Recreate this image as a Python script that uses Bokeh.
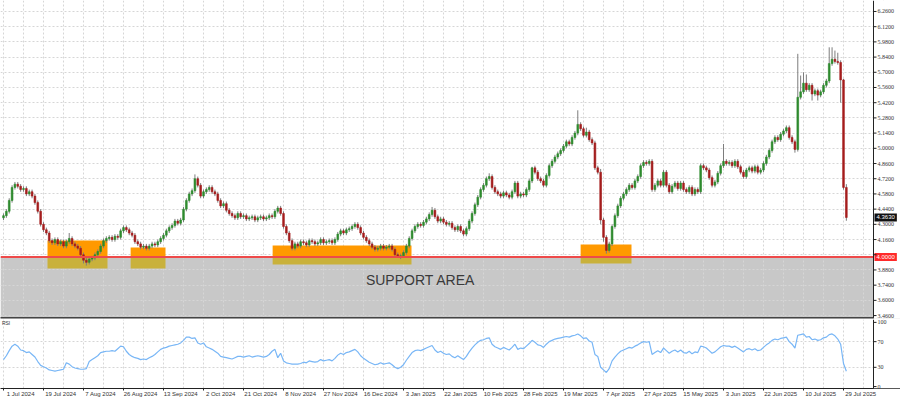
from bokeh.plotting import figure
from bokeh.layouts import column
from bokeh.models import (Range1d, FixedTicker, Label, LabelSet, Span, BoxAnnotation,
                          ColumnDataSource)
from bokeh.embed import file_html
from bokeh.resources import INLINE

# ---------------- data ----------------
closes = [
    4.38, 4.42, 4.52, 4.64, 4.67, 4.65, 4.62, 4.63, 4.58, 4.60,
    4.56, 4.50, 4.42, 4.30, 4.25, 4.22, 4.15, 4.13, 4.16, 4.12,
    4.14, 4.10, 4.14, 4.17, 4.12, 4.10, 4.08, 4.02, 3.97, 3.95,
    3.98, 3.99, 4.02, 4.05, 4.10, 4.15, 4.17, 4.18, 4.16, 4.19,
    4.18, 4.24, 4.27, 4.25, 4.22, 4.20, 4.14, 4.12, 4.09, 4.10,
    4.08, 4.10, 4.12, 4.11, 4.14, 4.17, 4.20, 4.24, 4.27, 4.29,
    4.33, 4.31, 4.34, 4.44, 4.52, 4.58, 4.61, 4.72, 4.66, 4.56,
    4.60, 4.62, 4.64, 4.60, 4.58, 4.52, 4.47, 4.49, 4.43, 4.40,
    4.38, 4.36, 4.40, 4.37, 4.38, 4.35, 4.36, 4.37, 4.34, 4.36,
    4.37, 4.35, 4.36, 4.38, 4.37, 4.42, 4.45, 4.40, 4.28, 4.22,
    4.15, 4.08, 4.12, 4.10, 4.14, 4.13, 4.11, 4.15, 4.14, 4.12,
    4.13, 4.16, 4.13, 4.14, 4.15, 4.13, 4.16, 4.21, 4.24, 4.22,
    4.25, 4.26, 4.28, 4.30, 4.27, 4.22, 4.18, 4.15, 4.12, 4.09,
    4.07, 4.08, 4.10, 4.08, 4.09, 4.10, 4.07, 4.02, 4.00, 4.01,
    4.04, 4.10, 4.17, 4.24, 4.28, 4.30, 4.29, 4.32, 4.35, 4.39,
    4.43, 4.37, 4.33, 4.35, 4.32, 4.30, 4.31, 4.27, 4.25, 4.28,
    4.24, 4.21, 4.26, 4.33, 4.40, 4.48, 4.55, 4.62, 4.66, 4.72,
    4.74, 4.64, 4.60, 4.58, 4.56, 4.59, 4.57, 4.55, 4.60, 4.68,
    4.56, 4.58, 4.57, 4.62, 4.70, 4.82, 4.78, 4.72, 4.70, 4.66,
    4.75, 4.84, 4.88, 4.92, 4.95, 4.98, 5.02, 5.06, 5.04, 5.10,
    5.14, 5.22, 5.18, 5.12, 5.15, 5.08, 5.05, 4.82, 4.78, 4.34,
    4.18, 4.06, 4.12, 4.28, 4.38, 4.47, 4.54, 4.58, 4.62, 4.66,
    4.64, 4.70, 4.74, 4.84, 4.87, 4.86, 4.88, 4.62, 4.66, 4.70,
    4.66, 4.78, 4.66, 4.60, 4.65, 4.68, 4.63, 4.68, 4.62, 4.60,
    4.64, 4.58, 4.62, 4.60, 4.84, 4.82, 4.80, 4.73, 4.66, 4.69,
    4.77, 4.84, 4.88, 4.86, 4.87, 4.84, 4.88, 4.83, 4.78, 4.74,
    4.80, 4.82, 4.79, 4.83, 4.78, 4.80, 4.86, 4.92, 4.98, 5.06,
    5.10, 5.08, 5.13, 5.16, 5.19, 5.10, 5.06, 4.99, 5.47, 5.52,
    5.60, 5.54, 5.58, 5.50, 5.53, 5.49, 5.52, 5.58, 5.62, 5.78,
    5.82, 5.80, 5.79, 5.63, 4.64, 4.363,
]

opens = [
    4.36, 4.38, 4.42, 4.52, 4.64, 4.67, 4.65, 4.62, 4.63, 4.58,
    4.60, 4.56, 4.50, 4.42, 4.30, 4.25, 4.22, 4.15, 4.13, 4.16,
    4.12, 4.14, 4.10, 4.14, 4.17, 4.12, 4.10, 4.08, 4.02, 3.97,
    3.95, 3.98, 3.99, 4.02, 4.05, 4.10, 4.15, 4.17, 4.18, 4.16,
    4.19, 4.18, 4.24, 4.27, 4.25, 4.22, 4.20, 4.14, 4.12, 4.09,
    4.10, 4.08, 4.10, 4.12, 4.11, 4.14, 4.17, 4.20, 4.24, 4.27,
    4.29, 4.33, 4.31, 4.34, 4.44, 4.52, 4.58, 4.61, 4.72, 4.66,
    4.56, 4.60, 4.62, 4.64, 4.60, 4.58, 4.52, 4.47, 4.49, 4.43,
    4.40, 4.38, 4.36, 4.40, 4.37, 4.38, 4.35, 4.36, 4.37, 4.34,
    4.36, 4.37, 4.35, 4.36, 4.38, 4.37, 4.42, 4.45, 4.40, 4.28,
    4.22, 4.15, 4.08, 4.12, 4.10, 4.14, 4.13, 4.11, 4.15, 4.14,
    4.12, 4.13, 4.16, 4.13, 4.14, 4.15, 4.13, 4.16, 4.21, 4.24,
    4.22, 4.25, 4.26, 4.28, 4.30, 4.27, 4.22, 4.18, 4.15, 4.12,
    4.09, 4.07, 4.08, 4.10, 4.08, 4.09, 4.10, 4.07, 4.02, 4.00,
    4.01, 4.04, 4.10, 4.17, 4.24, 4.28, 4.30, 4.29, 4.32, 4.35,
    4.39, 4.43, 4.37, 4.33, 4.35, 4.32, 4.30, 4.31, 4.27, 4.25,
    4.28, 4.24, 4.21, 4.26, 4.33, 4.40, 4.48, 4.55, 4.62, 4.66,
    4.72, 4.74, 4.64, 4.60, 4.58, 4.56, 4.59, 4.57, 4.55, 4.60,
    4.68, 4.56, 4.58, 4.57, 4.62, 4.70, 4.82, 4.78, 4.72, 4.70,
    4.66, 4.75, 4.84, 4.88, 4.92, 4.95, 4.98, 5.02, 5.06, 5.04,
    5.10, 5.14, 5.22, 5.18, 5.12, 5.15, 5.08, 5.05, 4.82, 4.78,
    4.34, 4.18, 4.06, 4.12, 4.28, 4.38, 4.47, 4.54, 4.58, 4.62,
    4.66, 4.64, 4.70, 4.74, 4.84, 4.87, 4.86, 4.88, 4.62, 4.66,
    4.70, 4.66, 4.78, 4.66, 4.60, 4.65, 4.68, 4.63, 4.68, 4.62,
    4.60, 4.64, 4.58, 4.62, 4.60, 4.84, 4.82, 4.80, 4.73, 4.66,
    4.69, 4.77, 4.84, 4.88, 4.86, 4.87, 4.84, 4.88, 4.83, 4.78,
    4.74, 4.80, 4.82, 4.79, 4.83, 4.78, 4.80, 4.86, 4.92, 4.98,
    5.06, 5.10, 5.08, 5.13, 5.16, 5.19, 5.10, 5.06, 4.99, 5.47,
    5.52, 5.60, 5.54, 5.58, 5.50, 5.53, 5.49, 5.52, 5.58, 5.62,
    5.78, 5.82, 5.80, 5.79, 5.63, 4.64,
]

upper_wick = [
    .02, .02, .02, .02, .02, .02, .02, .02, .02, .02,
    .02, .02, .02, .02, .02, .02, .02, .02, .02, .02,
    .02, .02, .02, .05, .02, .02, .02, .02, .02, .02,
    .02, .02, .02, .02, .02, .02, .02, .02, .02, .02,
    .02, .02, .02, .02, .02, .02, .02, .02, .02, .02,
    .02, .02, .02, .02, .02, .02, .02, .02, .02, .02,
    .02, .02, .02, .02, .02, .02, .02, .04, .02, .02,
    .02, .02, .02, .02, .02, .02, .02, .02, .02, .02,
    .02, .02, .02, .02, .02, .02, .02, .02, .02, .02,
    .02, .02, .02, .02, .02, .02, .02, .02, .02, .02,
    .02, .02, .02, .02, .02, .02, .02, .02, .02, .02,
    .02, .02, .02, .02, .02, .02, .02, .02, .02, .02,
    .02, .02, .02, .02, .02, .02, .02, .02, .02, .02,
    .02, .02, .02, .02, .02, .02, .02, .02, .02, .02,
    .02, .02, .02, .02, .02, .02, .02, .02, .02, .02,
    .03, .02, .02, .02, .02, .02, .02, .02, .02, .02,
    .02, .02, .02, .02, .02, .02, .02, .02, .02, .02,
    .03, .02, .02, .02, .02, .02, .02, .02, .02, .02,
    .02, .02, .02, .02, .02, .01, .02, .02, .02, .02,
    .02, .02, .02, .02, .02, .02, .02, .02, .02, .02,
    .02, .13, .02, .02, .04, .02, .02, .02, .02, .03,
    .02, .02, .02, .02, .02, .02, .02, .02, .02, .02,
    .02, .02, .02, .02, .02, .02, .02, .02, .02, .02,
    .02, .02, .02, .02, .02, .02, .02, .02, .02, .02,
    .02, .02, .02, .02, .02, .02, .02, .02, .02, .02,
    .02, .02, .16, .02, .02, .02, .02, .02, .02, .02,
    .02, .02, .02, .02, .02, .02, .02, .02, .02, .02,
    .02, .02, .02, .02, .02, .02, .02, .02, .40, .15,
    .10, .08, .02, .02, .02, .02, .02, .02, .02, .15,
    .11, .08, .08, .02, .01, .03,
]

lower_wick = [
    .02, .02, .02, .02, .02, .02, .02, .02, .02, .02,
    .02, .02, .02, .02, .02, .02, .02, .02, .02, .02,
    .02, .02, .02, .02, .02, .02, .02, .02, .03, .03,
    .02, .02, .02, .02, .02, .02, .02, .02, .02, .02,
    .02, .02, .02, .02, .02, .02, .02, .02, .02, .02,
    .02, .02, .02, .02, .02, .02, .02, .02, .02, .02,
    .02, .02, .02, .02, .02, .02, .02, .02, .02, .02,
    .02, .02, .02, .02, .02, .02, .02, .02, .02, .02,
    .02, .02, .02, .02, .02, .02, .02, .02, .02, .02,
    .02, .02, .02, .02, .02, .02, .02, .02, .02, .02,
    .02, .02, .02, .02, .02, .02, .02, .02, .02, .02,
    .02, .02, .02, .02, .02, .02, .02, .02, .02, .02,
    .02, .02, .02, .02, .02, .02, .02, .02, .02, .02,
    .02, .02, .02, .02, .02, .02, .02, .02, .01, .02,
    .02, .02, .02, .02, .02, .02, .02, .02, .02, .02,
    .02, .02, .02, .02, .02, .02, .02, .02, .02, .02,
    .02, .02, .02, .02, .02, .02, .02, .02, .02, .02,
    .02, .02, .02, .02, .02, .02, .02, .02, .02, .02,
    .02, .02, .02, .02, .02, .02, .02, .02, .02, .02,
    .02, .02, .02, .02, .02, .02, .02, .02, .02, .02,
    .02, .02, .02, .02, .02, .02, .02, .02, .02, .04,
    .04, .03, .02, .02, .02, .02, .02, .02, .02, .02,
    .02, .02, .02, .02, .02, .02, .02, .02, .02, .02,
    .02, .02, .02, .02, .02, .02, .02, .02, .02, .02,
    .02, .02, .02, .02, .02, .02, .02, .02, .02, .02,
    .02, .02, .02, .02, .02, .02, .02, .02, .02, .02,
    .02, .02, .02, .02, .02, .02, .02, .02, .02, .02,
    .02, .02, .02, .02, .02, .02, .02, .03, .02, .02,
    .02, .02, .02, .06, .02, .05, .02, .02, .02, .02,
    .02, .02, .02, .21, .02, .03,
]

rsi = [
    42, 48, 56, 63, 66, 63, 57, 56, 53, 54,
    50, 46, 39, 33, 31, 29, 26, 25, 24, 25,
    26, 27, 37, 35, 31, 29, 28, 27, 27, 28,
    39, 42, 45, 48, 53, 54, 55, 55, 56, 55,
    59, 63, 62, 55, 50, 47, 45, 44, 42, 43,
    42, 45, 47, 50, 54, 58, 60, 61, 63, 64,
    65, 66, 68, 72, 77, 77, 75, 76, 68, 66,
    68, 62, 60, 58, 55, 52, 47, 46, 45, 44,
    43, 45, 47, 47, 46, 47, 48, 46, 47, 48,
    47, 46, 47, 50, 55, 58, 45, 52, 40, 37,
    36, 35, 35, 35, 36, 38, 37, 40, 39, 38,
    39, 42, 40, 41, 42, 40, 44, 49, 52, 50,
    53, 54, 56, 58, 54, 48, 44, 41, 38, 36,
    34, 35, 37, 35, 36, 37, 34, 30, 28, 30,
    34, 41, 47, 53, 56, 57, 56, 58, 60, 62,
    64, 57, 53, 55, 52, 50, 51, 47, 45, 48,
    45, 42, 47, 54, 60, 65, 69, 72, 73, 75,
    76, 66, 62, 60, 58, 61, 59, 57, 61, 66,
    58, 60, 59, 63, 67, 72, 69, 65, 64, 61,
    66, 70, 72, 74, 75, 76, 77, 78, 77, 79,
    80, 82, 79, 75, 76, 71, 69, 50, 47, 30,
    26, 22, 28, 40, 46, 51, 55, 57, 59, 61,
    60, 63, 65, 68, 70, 69, 70, 50, 53, 56,
    53, 60, 56, 52, 55, 57, 54, 57, 53, 52,
    55, 51, 54, 53, 63, 62, 60, 56, 52, 54,
    58, 62, 64, 63, 63, 61, 63, 60, 57, 54,
    58, 59, 57, 59, 56, 57, 61, 65, 68, 72,
    74, 73, 75, 76, 77, 70, 66, 60, 80, 81,
    82, 77, 78, 73, 74, 72, 73, 76, 77, 81,
    82, 79, 74, 66, 36, 24,
]

date_labels = [
    "1 Jul 2024", "19 Jul 2024", "7 Aug 2024", "26 Aug 2024", "13 Sep 2024",
    "2 Oct 2024", "21 Oct 2024", "8 Nov 2024", "27 Nov 2024", "16 Dec 2024",
    "3 Jan 2025", "22 Jan 2025", "10 Feb 2025", "28 Feb 2025", "19 Mar 2025",
    "7 Apr 2025", "27 Apr 2025", "15 May 2025", "3 Jun 2025", "22 Jun 2025",
    "10 Jul 2025", "29 Jul 2025",
]
bars_per_date_label = 14

price_ticks = [3.46, 3.60, 3.74, 3.88, 4.02, 4.16, 4.30, 4.44, 4.58, 4.72,
               4.86, 5.00, 5.14, 5.28, 5.42, 5.56, 5.70, 5.84, 5.98, 6.12, 6.26]
rsi_ticks = [0, 30, 70, 100]
rsi_levels = [30, 70]

support_level = 4.00
last_price = 4.363

# highlighted touch zones: bar index span and price span
zone_start = [15.4, 44.5, 94.2, 202.0]
zone_end = [36.4, 56.7, 142.8, 219.8]
zone_top = [4.151, 4.087, 4.105, 4.115]
zone_bottom = [3.893, 3.893, 3.930, 3.940]

# ---------------- build ----------------
n = len(closes)
idx = list(range(n))
highs = [max(o, c) + w for o, c, w in zip(opens, closes, upper_wick)]
lows = [min(o, c) - w for o, c, w in zip(opens, closes, lower_wick)]
up = [c >= o for o, c in zip(opens, closes)]
UP_COL, DN_COL, WICK_COL = "#2e8b2e", "#a51d1d", "#7d7d7d"
src = ColumnDataSource(dict(
    x=idx, o=opens, c=closes, h=highs, l=lows,
    top=[max(o, c) for o, c in zip(opens, closes)],
    bot=[min(o, c) for o, c in zip(opens, closes)],
    col=[UP_COL if u else DN_COL for u in up],
))

PX_PER_BAR = 40 / 14.0
X0 = -3 / PX_PER_BAR                      # bar 0 sits 3 px in
X1 = X0 + 900 / PX_PER_BAR
AXIS_X = X0 + 873 / PX_PER_BAR            # right price scale at 873 px
TICK_LEN = 3 / PX_PER_BAR
GRID_COL = "#d6d6d6"
TXT_COL = "#333333"
AX_COL = "#222222"
FONT = "Liberation Sans"
vgrid_ticks = list(range(0, 310, 7))
Y0, Y1 = 3.433, 6.361


def style_grid(fig, yticks):
    fig.xgrid.ticker = FixedTicker(ticks=vgrid_ticks)
    fig.ygrid.ticker = FixedTicker(ticks=yticks)
    for g in (fig.xgrid, fig.ygrid):
        g.grid_line_color = GRID_COL
        g.grid_line_dash = "2 2"
        g.grid_line_width = 1


def right_scale(fig, ticks, texts):
    """white strip right of 873 px with axis line, ticks and labels"""
    fig.add_layout(BoxAnnotation(left=AXIS_X, fill_color="white", fill_alpha=1.0, line_color=None))
    fig.add_layout(Span(location=AXIS_X, dimension="height", line_color=AX_COL, line_width=1))
    fig.segment(x0=[AXIS_X] * len(ticks), x1=[AXIS_X + TICK_LEN] * len(ticks),
                y0=ticks, y1=ticks, line_color=AX_COL, line_width=1, level="overlay")
    tsrc = ColumnDataSource(dict(y=ticks, t=texts))
    fig.add_layout(LabelSet(x=877, x_units="screen", y="y", text="t", source=tsrc,
                            text_baseline="middle", text_font=FONT, text_font_size="6px",
                            text_color=TXT_COL))


# ---------------- main price panel ----------------
p = figure(width=900, height=319, x_range=Range1d(X0, X1), y_range=Range1d(Y0, Y1),
           output_backend="svg", toolbar_location=None,
           x_axis_location=None, y_axis_location=None,
           min_border_left=0, min_border_top=0, min_border_bottom=1, min_border_right=0)
p.outline_line_color = None
p.background_fill_color = "white"
p.border_fill_color = "white"
style_grid(p, price_ticks)

# support area
p.add_layout(BoxAnnotation(top=support_level, fill_color="#c8c8c8", fill_alpha=1.0,
                           line_color=None, level="image"))

# zones
zsrc = ColumnDataSource(dict(l=zone_start, r=zone_end, t=zone_top, b=zone_bottom,
                             s=[support_level] * len(zone_start)))
p.quad(left="l", right="r", top="t", bottom="s", source=zsrc,
       fill_color="#ff9900", line_color=None)
p.quad(left="l", right="r", top="s", bottom="b", source=zsrc,
       fill_color="#c9b13b", line_color=None)

# candles
p.segment(x0="x", y0="h", x1="x", y1="l", source=src, line_color=WICK_COL, line_width=1)
p.vbar(x="x", width=0.62, top="top", bottom="bot", source=src,
       fill_color="col", line_color="col", line_width=0.6)

# support line
p.add_layout(Span(location=support_level, dimension="width", line_color="#ee4a4a", line_width=2))

p.add_layout(Label(x=146, y=3.783, text="SUPPORT AREA", text_align="center",
                   text_baseline="middle", text_font=FONT, text_font_size="14px",
                   text_color="#3a3a3a"))

right_scale(p, price_ticks, ["%.4f" % v for v in price_ticks])
p.segment(x0=[X0], x1=[AXIS_X], y0=[Y0 + 0.008], y1=[Y0 + 0.008],
          line_color="#444444", line_width=1.5, level="overlay")

# price flags on the scale
p.add_layout(Label(x=874, x_units="screen", y=support_level, y_units="data",
                   text="%.4f" % support_level, text_baseline="middle", text_font=FONT,
                   text_font_size="6px", text_color="white", padding=2,
                   background_fill_color="#ff2a2a", background_fill_alpha=1.0))
p.add_layout(Label(x=874, x_units="screen", y=last_price, y_units="data",
                   text="%.4f" % last_price, text_baseline="middle", text_font=FONT,
                   text_font_size="6px", text_color="white", padding=2,
                   background_fill_color="#111111", background_fill_alpha=1.0))

# ---------------- RSI panel ----------------
r = figure(width=900, height=80, x_range=Range1d(X0, X1), y_range=Range1d(-3, 104.5),
           output_backend="svg", toolbar_location=None, y_axis_location=None,
           min_border_left=0, min_border_top=0, min_border_bottom=9, min_border_right=0)
r.outline_line_color = None
r.background_fill_color = "white"
r.border_fill_color = "white"
style_grid(r, rsi_levels)

r.line(idx, rsi, line_color="#78b6f6", line_width=1.2)
right_scale(r, rsi_ticks, [str(v) for v in rsi_ticks])
r.add_layout(Label(x=X0 + 0.5, y=103, text="RSI", text_baseline="top", text_font=FONT,
                   text_font_size="5px", text_color=TXT_COL))

date_ticks = [k * bars_per_date_label for k in range(len(date_labels))]
label_pos = [t + 6 for t in date_ticks]
rx = r.xaxis[0]
rx.ticker = FixedTicker(ticks=label_pos, minor_ticks=date_ticks)
rx.major_label_overrides = {lp: lab for lp, lab in zip(label_pos, date_labels)}
rx.major_label_text_font_size = "6px"
rx.major_label_text_font = FONT
rx.major_label_text_color = TXT_COL
rx.major_tick_out = 0
rx.major_tick_in = 0
rx.minor_tick_out = 2
rx.minor_tick_in = 0
rx.major_label_standoff = 0
rx.axis_line_color = AX_COL
rx.minor_tick_line_color = AX_COL

layout = column(p, r, spacing=0)
open("out.html", "w").write(file_html(layout, INLINE))
